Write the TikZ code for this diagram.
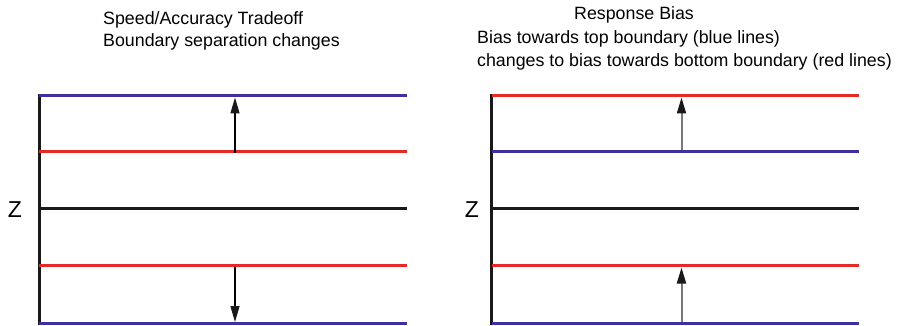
\documentclass[tikz,border=0pt]{standalone}
\usepackage{fontspec}
\setmainfont{Liberation Sans}
\usetikzlibrary{arrows.meta}
\definecolor{bndblue}{RGB}{62,48,158}
\definecolor{bndred}{RGB}{228,42,36}
\definecolor{shaftgray}{RGB}{120,120,120}
\tikzset{
  axisline/.style={line width=3pt, black!90},
  bound/.style={line width=3pt},
  movearrow/.style={line width=1.3pt, -{Triangle[length=16pt,width=9pt,color=black!90]}},
  caption/.style={font=\fontsize{17.8}{22}\selectfont, inner sep=0pt, anchor=west},
  zlabel/.style={font=\fontsize{23}{23}\selectfont, inner sep=0pt}
}
\begin{document}
\begin{tikzpicture}[x=1pt, y=-1pt]
\useasboundingbox (0,0) rectangle (898,326);

% ---- left panel: speed/accuracy tradeoff ----
\node[caption] (lt1) at (103,20) {Speed/Accuracy Tradeoff};
\node[caption] (lt2) at (103,42) {Boundary separation changes};

\coordinate (la0) at (39.5,94.5);
\coordinate (la1) at (39.5,325);
\draw[axisline] (la0) -- (la1);
\node[zlabel] (lz) at (15,210) {Z};

\coordinate (lA1) at (39,96);   \coordinate (lA2) at (407,96);
\coordinate (lB1) at (39,152);  \coordinate (lB2) at (407,152);
\coordinate (lC1) at (39,209);  \coordinate (lC2) at (407,209);
\coordinate (lD1) at (39,266);  \coordinate (lD2) at (407,266);
\coordinate (lE1) at (39,323.5);\coordinate (lE2) at (407,323.5);
\draw[bound, bndblue] (lA1) -- (lA2);
\draw[bound, bndred]  (lB1) -- (lB2);
\draw[bound, black!90] (lC1) -- (lC2);
\draw[bound, bndred]  (lD1) -- (lD2);
\draw[bound, bndblue] (lE1) -- (lE2);

\coordinate (lu0) at (235,153.5); \coordinate (lu1) at (235,97.5);
\coordinate (ld0) at (235,267.5); \coordinate (ld1) at (235,322);
\draw[movearrow, black] (lu0) -- (lu1);
\draw[movearrow, black] (ld0) -- (ld1);

% ---- right panel: response bias ----
\node[caption] (rt1) at (574,15) {Response Bias};
\node[caption] (rt2) at (477,39) {Bias towards top boundary (blue lines)};
\node[caption] (rt3) at (477,62) {changes to bias towards bottom boundary (red lines)};

\coordinate (ra0) at (491.7,94.5);
\coordinate (ra1) at (491.7,325);
\draw[axisline] (ra0) -- (ra1);
\node[zlabel] (rz) at (472,210) {Z};

\coordinate (rA1) at (492,96);   \coordinate (rA2) at (859,96);
\coordinate (rB1) at (492,152);  \coordinate (rB2) at (859,152);
\coordinate (rC1) at (492,209);  \coordinate (rC2) at (859,209);
\coordinate (rD1) at (492,266);  \coordinate (rD2) at (859,266);
\coordinate (rE1) at (492,323.5);\coordinate (rE2) at (859,323.5);
\draw[bound, bndred]  (rA1) -- (rA2);
\draw[bound, bndblue] (rB1) -- (rB2);
\draw[bound, black!90] (rC1) -- (rC2);
\draw[bound, bndred]  (rD1) -- (rD2);
\draw[bound, bndblue] (rE1) -- (rE2);

\coordinate (ru0) at (681.5,150.5); \coordinate (ru1) at (681.5,97.5);
\coordinate (rv0) at (681.5,322);   \coordinate (rv1) at (681.5,267.5);
\draw[movearrow, shaftgray, line width=2pt] (ru0) -- (ru1);
\draw[movearrow, shaftgray, line width=2pt] (rv0) -- (rv1);
\end{tikzpicture}
\end{document}
